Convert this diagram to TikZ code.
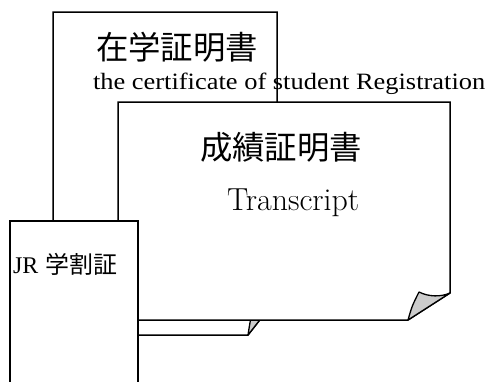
\documentclass[tikz,border=0pt]{standalone}
\usepackage{fontspec}
\newfontfamily\jp{Noto Sans CJK JP}
\newfontfamily\tnr{Liberation Serif}
\newfontfamily\tnrw[FakeStretch=1.13]{Liberation Serif}
\begin{document}
\begin{tikzpicture}[x=1bp,y=-1bp,
  sheet/.style={draw=black,line width=1.5bp,fill=white,line join=miter},
  curl/.style={draw=black,line width=1.3bp,fill=gray!40,line join=round},
  lbl/.style={inner sep=0pt,outer sep=0pt}]
\useasboundingbox (0,0) rectangle (493,381);
\clip (0,0) rectangle (493,381);
% back sheet: certificate of student registration
\draw[sheet] (53,12) -- (277,12) -- (277,298) -- (248,335) -- (53,335) -- cycle;
\draw[curl] (248,335) .. controls (250,322) .. (255,298) .. controls (262,301) and (270,301) .. (277,298) -- cycle;
\node[lbl,font=\jp\fontsize{32.5}{32.5}\selectfont] (zaigaku) at (177,47) {在学証明書};
% transcript sheet
\draw[sheet] (118,102) -- (450,102) -- (450,293) -- (408,320) -- (118,320) -- cycle;
\draw[curl] (408,320) .. controls (412,306) .. (419,292) .. controls (429,297) and (441,297) .. (450,293) -- cycle;
\node[lbl,anchor=base west,font=\tnrw\fontsize{23.5}{23.5}\selectfont] (regen) at (93,89) {the certificate of student Registration};
\node[lbl,font=\jp\fontsize{32.5}{32.5}\selectfont] (seiseki) at (281,147) {成績証明書};
\node[lbl,anchor=base west,font=\fontsize{32}{32}\selectfont] (trans) at (227,210) {Transcript};
% JR discount card
\draw[sheet] (10,221) rectangle (138,390);
\node[lbl,anchor=base west,font=\fontsize{24}{24}\selectfont] (jr) at (13,273) {{\tnr JR} {\jp 学割証}};
\end{tikzpicture}
\end{document}
